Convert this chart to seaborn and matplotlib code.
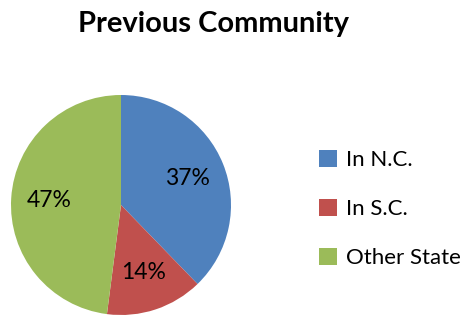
import numpy as np
import seaborn as sns
import matplotlib.pyplot as plt

# chart data
labels = ['In N.C.', 'In S.C.', 'Other State']
values = [37, 14, 47]
colors = ['#4F81BD', '#C0504D', '#9BBB59']

sns.set_theme(style='white')
plt.rcParams['font.family'] = ['Lato', 'DejaVu Sans']
plt.rcParams['text.color'] = 'black'

W, H = 468, 318
fig = plt.figure(figsize=(W / 100, H / 100), dpi=100)
ax = fig.add_axes([11 / W, 3 / H, 220 / W, 220 / H])

total = sum(values)
wedges, texts, autotexts = ax.pie(
    values, colors=colors, startangle=90, counterclock=False,
    autopct=lambda p: '{:.0f}%'.format(p * total / 100),
    pctdistance=0.65, radius=1,
    wedgeprops=dict(linewidth=0),
    textprops=dict(fontsize=16.5, color='black'))
ax.set_xlim(-1, 1)
ax.set_ylim(-1, 1)
ax.set_aspect('equal')
ax.axis('off')

fig.text(214 / W, 1 - 24 / H, 'Previous Community', ha='center', va='center',
         fontsize=21, fontweight='bold', color='black')

fig.legend(wedges, labels, loc='upper left', bbox_to_anchor=(310 / W, 1 - 141 / H),
           frameon=False, fontsize=16, handlelength=0.8, handleheight=0.8,
           handletextpad=0.4, labelspacing=1.3, borderaxespad=0,
           labelcolor='black')

fig.savefig('out.png', dpi=100)
